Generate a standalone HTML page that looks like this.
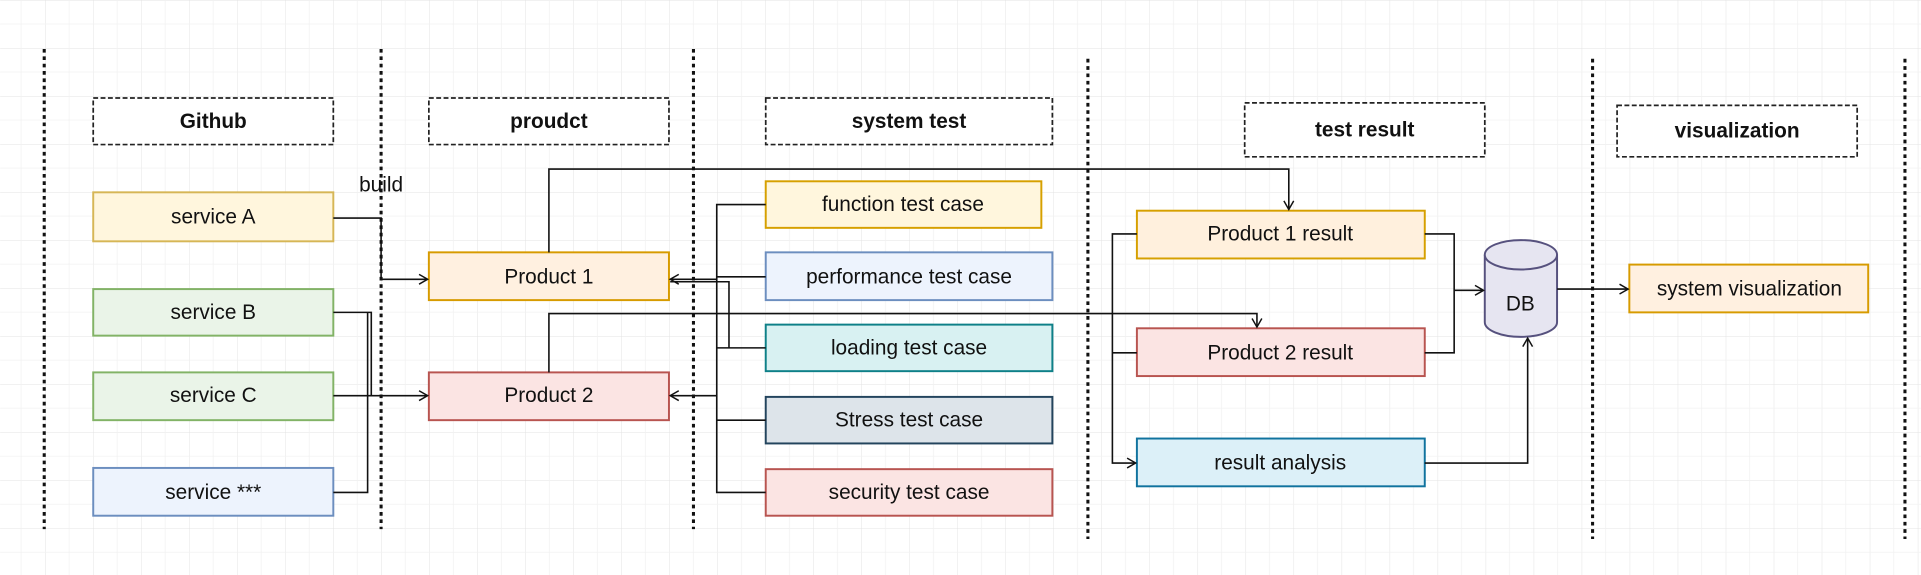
<!DOCTYPE html>
<html><head><meta charset="utf-8"><style>
html,body{margin:0;padding:0;background:#fff;}
svg{display:block;}
text{font-family:"Liberation Sans",sans-serif;font-size:17px;fill:#111;text-anchor:middle;dominant-baseline:central;}
.h{font-weight:bold;}
</style></head><body>
<svg width="1921" height="575" viewBox="0 0 1568 469.4" xmlns="http://www.w3.org/2000/svg">
<defs>
<pattern id="g" x="36.7" y="0" width="39.2" height="39.2" patternUnits="userSpaceOnUse">
<path d="M0 0H39.2M0 0V39.2" stroke="#e3e3e3" stroke-width="0.8" fill="none"/>
<path d="M0 19.6H39.2M19.6 0V39.2" stroke="#f1f1f1" stroke-width="0.6" fill="none"/>
</pattern>
<marker id="a" markerWidth="10" markerHeight="10" refX="8" refY="5" orient="auto" markerUnits="userSpaceOnUse"><path d="M1 1L8 5L1 9" fill="none" stroke="#111" stroke-width="1.2"/></marker>
</defs>
<rect width="1568" height="470" fill="url(#g)"/>
<g stroke="#111" stroke-width="2.5" stroke-dasharray="3 3">
<line x1="36" y1="40" x2="36" y2="432"/><line x1="311" y1="40" x2="311" y2="432"/><line x1="566" y1="40" x2="566" y2="432"/>
<line x1="888" y1="48" x2="888" y2="440"/><line x1="1300" y1="48" x2="1300" y2="440"/><line x1="1555" y1="48" x2="1555" y2="440"/>
</g>
<g fill="#fff" stroke="#222" stroke-width="1.4" stroke-dasharray="4 2">
<rect x="76" y="80" width="196" height="38"/><rect x="350" y="80" width="196" height="38"/><rect x="625" y="80" width="234" height="38"/>
<rect x="1016" y="84" width="196" height="44"/><rect x="1320" y="86" width="196" height="42"/>
</g>
<text class="h" x="174" y="99">Github</text><text class="h" x="448" y="99">proudct</text><text class="h" x="742" y="99">system test</text>
<text class="h" x="1114" y="106">test result</text><text class="h" x="1418" y="107">visualization</text>
<text x="311" y="151" font-size="15">build</text>
<g stroke-width="1.6">
<rect x="76" y="157" width="196" height="40" fill="#fff6dd" stroke="#d6b656"/>
<rect x="76" y="236" width="196" height="38" fill="#eaf4e8" stroke="#82b366"/>
<rect x="76" y="304" width="196" height="39" fill="#eaf4e8" stroke="#82b366"/>
<rect x="76" y="382" width="196" height="39" fill="#edf3fd" stroke="#6c8ebf"/>
<rect x="350" y="206" width="196" height="39" fill="#fff0e0" stroke="#d79b00"/>
<rect x="350" y="304" width="196" height="39" fill="#fbe4e3" stroke="#b85450"/>
<rect x="625" y="148" width="225" height="38" fill="#fff6dd" stroke="#d6a000"/>
<rect x="625" y="206" width="234" height="39" fill="#edf3fd" stroke="#6c8ebf"/>
<rect x="625" y="265" width="234" height="38" fill="#d8f1f2" stroke="#0e8088"/>
<rect x="625" y="324" width="234" height="38" fill="#dde4ea" stroke="#23445d"/>
<rect x="625" y="383" width="234" height="38" fill="#fbe4e3" stroke="#b85450"/>
<rect x="928" y="172" width="235" height="39" fill="#fff0dd" stroke="#d6a000"/>
<rect x="928" y="268" width="235" height="39" fill="#fbe4e3" stroke="#b85450"/>
<rect x="928" y="358" width="235" height="39" fill="#dcf0f8" stroke="#10739e"/>
<rect x="1330" y="216" width="195" height="39" fill="#fff0e0" stroke="#d79b00"/>
<path d="M1212 208V263A29.5 12 0 0 0 1271 263V208" fill="#e6e5f1" stroke="#56517e"/>
<ellipse cx="1241.5" cy="208" rx="29.5" ry="12" fill="#e6e5f1" stroke="#56517e"/>
</g>
<text x="174" y="177">service A</text><text x="174" y="255">service B</text><text x="174" y="323">service C</text><text x="174" y="402">service ***</text>
<text x="448" y="226">Product 1</text><text x="448" y="323">Product 2</text>
<text x="737" y="167">function test case</text><text x="742" y="226">performance test case</text><text x="742" y="284">loading test case</text>
<text x="742" y="343">Stress test case</text><text x="742" y="402">security test case</text>
<text x="1045" y="191">Product 1 result</text><text x="1045" y="288">Product 2 result</text><text x="1045" y="378">result analysis</text>
<text x="1241" y="248">DB</text><text x="1428" y="236">system visualization</text>
<g fill="none" stroke="#111" stroke-width="1.3">
<path d="M272 178H311V228H349" marker-end="url(#a)"/>
<path d="M272 255H303V323"/><path d="M272 402H300V255"/>
<path d="M272 323H349" marker-end="url(#a)"/>
<path d="M448 206V138H1052V171" marker-end="url(#a)"/>
<path d="M448 304V256H1026V267" marker-end="url(#a)"/>
<path d="M625 167H585V402H625M585 226H625M585 284H625M585 343H625"/>
<path d="M585 228H547" marker-end="url(#a)"/><path d="M595 284V230H547"/>
<path d="M585 323H547" marker-end="url(#a)"/>
<path d="M928 191H908V378H927" marker-end="url(#a)"/><path d="M908 288H928"/>
<path d="M1163 191H1187V288H1163M1187 237H1211" marker-end="url(#a)"/>
<path d="M1163 378H1247V276" marker-end="url(#a)"/>
<path d="M1271 236H1329" marker-end="url(#a)"/>
</g>
</svg>
</body></html>
